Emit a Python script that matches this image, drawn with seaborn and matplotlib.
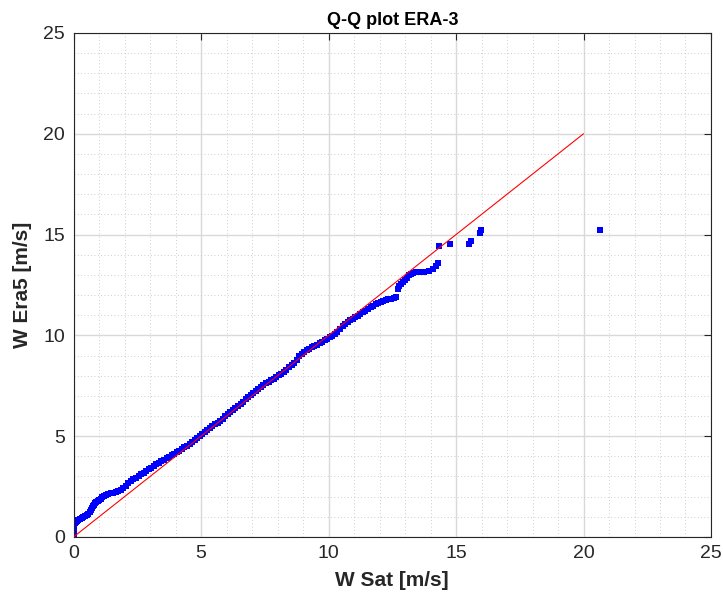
import numpy as np
import pandas as pd
import matplotlib
matplotlib.use("Agg")
import matplotlib.pyplot as plt
import seaborn as sns
from matplotlib.ticker import MultipleLocator

title = "Q-Q plot ERA-3"
xlabel = "W Sat [m/s]"
ylabel = "W Era5 [m/s]"

w_sat = [
    0.0, 0.0, 0.02, 0.03, 0.05, 0.08, 0.12, 0.18, 0.25, 0.32, 0.38, 0.45, 0.52, 0.58, 0.63, 0.68, 0.72, 0.76, 0.8, 0.85, 0.9, 0.95,
    1.0, 1.06, 1.12, 1.2, 1.28, 1.36, 1.45, 1.55, 1.65, 1.75, 1.85, 1.95,
    2.05, 2.15, 2.25, 2.35, 2.45, 2.55, 2.65, 2.75, 2.85, 2.95,
    3.05, 3.15, 3.25, 3.35, 3.45, 3.55, 3.65, 3.75, 3.85, 3.95,
    4.05, 4.15, 4.25, 4.35, 4.45, 4.55, 4.65, 4.75, 4.85, 4.95,
    5.05, 5.15, 5.25, 5.35, 5.45, 5.55, 5.65, 5.75, 5.85, 5.95,
    6.05, 6.15, 6.25, 6.35, 6.45, 6.55, 6.65, 6.75, 6.85, 6.95,
    7.05, 7.15, 7.25, 7.35, 7.45, 7.55, 7.65, 7.75, 7.85, 7.95,
    8.05, 8.15, 8.25, 8.35, 8.45, 8.55, 8.65, 8.75, 8.85, 8.95,
    9.05, 9.15, 9.25, 9.35, 9.45, 9.55, 9.65, 9.75, 9.85, 9.95,
    10.05, 10.15, 10.25, 10.35, 10.45, 10.55, 10.65, 10.75, 10.85, 10.95,
    11.05, 11.15, 11.25, 11.35, 11.45, 11.55, 11.65, 11.75, 11.85, 11.95,
    12.05, 12.15, 12.25, 12.35, 12.45, 12.55, 12.65, 12.72, 12.78, 12.85, 12.92, 13.0, 13.08, 13.15,
    13.22, 13.3, 13.45, 13.6, 13.75, 13.95, 14.1, 14.2, 14.3, 14.33, 14.76, 15.5, 15.57, 15.95, 15.97, 20.65,
]
w_era5 = [
    0.1, 0.25, 0.4, 0.55, 0.68, 0.75, 0.8, 0.84, 0.88, 0.93, 0.98, 1.02, 1.08, 1.15, 1.25, 1.35, 1.45, 1.52, 1.6, 1.67, 1.72, 1.76,
    1.82, 1.9, 1.97, 2.02, 2.07, 2.12, 2.16, 2.2, 2.24, 2.28, 2.34, 2.42,
    2.55, 2.68, 2.78, 2.86, 2.94, 3.02, 3.1, 3.18, 3.28, 3.36,
    3.44, 3.52, 3.6, 3.68, 3.76, 3.84, 3.92, 3.99, 4.06, 4.12,
    4.2, 4.28, 4.35, 4.44, 4.52, 4.6, 4.7, 4.8, 4.9, 5.0,
    5.1, 5.22, 5.32, 5.42, 5.5, 5.58, 5.66, 5.74, 5.84, 5.98,
    6.08, 6.18, 6.28, 6.4, 6.5, 6.6, 6.7, 6.82, 6.92, 7.02,
    7.12, 7.22, 7.34, 7.44, 7.55, 7.64, 7.7, 7.78, 7.84, 7.92,
    8.02, 8.1, 8.2, 8.3, 8.42, 8.52, 8.62, 8.8, 8.98, 9.1,
    9.18, 9.25, 9.32, 9.4, 9.46, 9.52, 9.6, 9.68, 9.75, 9.82,
    9.9, 9.98, 10.06, 10.18, 10.3, 10.45, 10.58, 10.66, 10.74, 10.82,
    10.9, 10.98, 11.06, 11.14, 11.22, 11.3, 11.4, 11.48, 11.56, 11.62,
    11.66, 11.7, 11.74, 11.78, 11.8, 11.84, 11.9, 12.3, 12.45, 12.55, 12.65, 12.75, 12.85, 12.98,
    13.05, 13.1, 13.12, 13.12, 13.12, 13.2, 13.3, 13.45, 13.6, 14.45, 14.55, 14.55, 14.7, 15.1, 15.25, 15.25,
]
ref_line_x = [0, 20]
ref_line_y = [0, 20]

sns.set_theme(style="white")
plt.rcParams['font.family'] = ['Liberation Sans', 'DejaVu Sans']

dark = "#262626"
fig = plt.figure(figsize=(7.23, 6.03), dpi=100)
ax = fig.add_axes([0.1017, 0.1095, 0.9834 - 0.1017, 0.9453 - 0.1095])

df = pd.DataFrame({"x": w_sat, "y": w_era5})
ref = pd.DataFrame({"x": ref_line_x, "y": ref_line_y})

sns.lineplot(data=ref, x="x", y="y", ax=ax, color="#ff0000", linewidth=0.8, zorder=3)
sns.scatterplot(data=df, x="x", y="y", ax=ax, color="#0000ff", marker="s", s=17,
                edgecolor="#0000ff", linewidth=0, zorder=2)

ax.set_xlim(0, 25)
ax.set_ylim(0, 25)
ax.xaxis.set_major_locator(MultipleLocator(5))
ax.yaxis.set_major_locator(MultipleLocator(5))
ax.xaxis.set_minor_locator(MultipleLocator(1))
ax.yaxis.set_minor_locator(MultipleLocator(1))
ax.grid(which="major", color="#d9d9d9", linewidth=1.0, linestyle="-")
ax.grid(which="minor", color="#bdbdbd", linewidth=0.6, linestyle=(0, (1, 3)))
ax.set_axisbelow(True)

for s in ax.spines.values():
    s.set_visible(True)
    s.set_color(dark)
    s.set_linewidth(0.8)

ax.tick_params(which="major", direction="in", length=5, width=0.8, color=dark,
               labelsize=14, labelcolor=dark, top=True, right=True, pad=6)
ax.tick_params(which="minor", length=0)

ax.set_xlabel(xlabel, fontsize=15, fontweight="bold", color=dark, labelpad=6)
ax.set_ylabel(ylabel, fontsize=15, fontweight="bold", color=dark, labelpad=8)
ax.set_title(title, fontsize=13, fontweight="bold", color="black", pad=6)

fig.savefig("out.png", dpi=100)
